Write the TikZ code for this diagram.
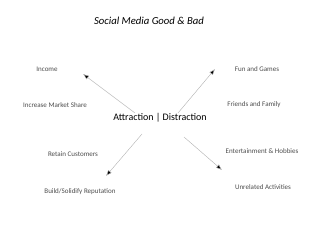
\documentclass[tikz,border=0pt]{standalone}
\usepackage{fontspec}
\setmainfont{Carlito}
\usetikzlibrary{arrows.meta,positioning}
\tikzset{
  lbl/.style={font=\fontsize{5}{6}\selectfont, text=black!70, inner sep=1pt},
  hub/.style={font=\fontsize{7.1}{9}\selectfont, inner sep=1pt},
  ttl/.style={font=\fontsize{7.6}{9}\selectfont\itshape, inner sep=1pt},
  arr/.style={-{Latex[length=1.5mm,width=1.1mm,fill=black]}, draw=black!30, line width=0.3pt}
}
\begin{document}
\begin{tikzpicture}[x=0.025cm, y=-0.025cm]
\useasboundingbox (0,0) rectangle (320,247);
\node[ttl] (title) at (149,21) {Social Media Good \& Bad};
\node[hub] (hub) at (160,118) {Attraction | Distraction};
% good side
\node[lbl] (income) at (47,69) {Income};
\node[lbl] (share) at (55,105) {Increase Market Share};
\node[lbl] (retain) at (73,154) {Retain Customers};
\node[lbl] (rep) at (80,192) {Build/Solidify Reputation};
% bad side
\node[lbl] (fun) at (257,69) {Fun and Games};
\node[lbl] (friends) at (254,105) {Friends and Family};
\node[lbl] (hobbies) at (262,151) {Entertainment \& Hobbies};
\node[lbl] (unrel) at (263,187) {Unrelated Activities};
% arrow ends
\coordinate (a1) at (135,113);
\coordinate (a2) at (178,113);
\coordinate (a3) at (142,134);
\coordinate (a4) at (184,137);
\coordinate (ul) at (83,74);
\coordinate (ur) at (215,69);
\coordinate (dl) at (106,176);
\coordinate (dr) at (222,170);
\draw[arr] (a1) -- (ul);
\draw[arr] (a2) -- (ur);
\draw[arr] (a3) -- (dl);
\draw[arr] (a4) -- (dr);
\end{tikzpicture}
\end{document}
